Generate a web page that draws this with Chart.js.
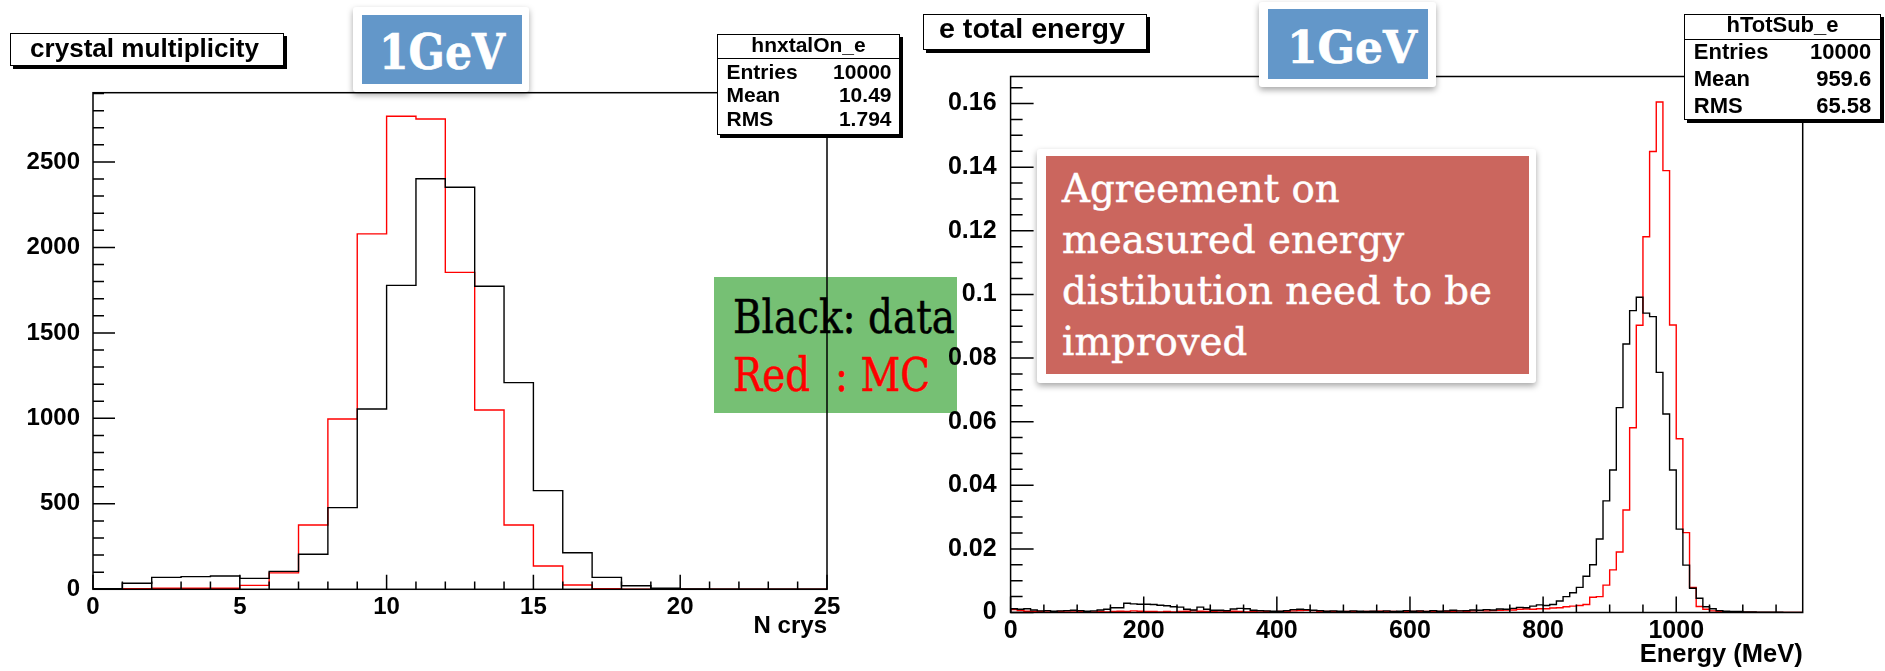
<!DOCTYPE html>
<html>
<head>
<meta charset="utf-8">
<title>crystal multiplicity / e total energy</title>
<script src="https://cdn.jsdelivr.net/npm/chart.js@4.4.1/dist/chart.umd.min.js"></script>
<style>
  html, body { margin: 0; padding: 0; background: #fff; }
  #page { position: relative; width: 1885px; height: 671px; overflow: hidden; background: #fff;
          font-family: "Liberation Sans", Arial, Helvetica, sans-serif; }
  canvas { position: absolute; top: 0; z-index: 2; }
  #crysCanvas { left: 0; }
  #energyCanvas { left: 910px; }
  .pave { position: absolute; box-sizing: border-box; background: #fff; border: 1.5px solid #000;
          box-shadow: 3px 3px 0 #000; z-index: 3; color: #000; font-weight: bold; }
  .pave .t { position: absolute; white-space: pre; }
  .sep { position: absolute; left: 0; right: 0; height: 0; border-top: 1.5px solid #000; }
  .fit { display: inline-block; white-space: pre; transform-origin: 0 0; }
  .mat { position: absolute; background: #fff; border-radius: 3px;
         box-shadow: 0 3px 6px rgba(0,0,0,0.35); z-index: 3; }
  .gev { position: absolute; background: #6397c9; color: #fff;
         font-family: "DejaVu Serif", serif; font-weight: bold; }
  .gev span { position: absolute; -webkit-text-stroke: 0.6px #fff; }
  #legendBox { position: absolute; left: 714px; top: 277px; width: 243px; height: 136px;
               background: #76c074; z-index: 1; }
  #legendBox .fit { position: absolute; left: 19px; top: 11px;
                    font-family: "DejaVu Serif", serif;
                    font-size: 46px; line-height: 58px; }
  #legendBox .blk { color: #000; -webkit-text-stroke: 0.5px #000; }
  #legendBox .red { color: #ff0000; -webkit-text-stroke: 0.5px #ff0000; }
  #noteBox { position: absolute; background: #cb665e; color: #fff;
             font-family: "DejaVu Serif", serif; }
  #noteBox .fit { position: absolute; left: 16px; top: 7px; font-size: 40px; line-height: 50.8px;
                  -webkit-text-stroke: 0.5px #fff; }
</style>
</head>
<body>
<div id="page">
  <canvas id="crysCanvas" width="910" height="671"></canvas>
  <canvas id="energyCanvas" width="975" height="671"></canvas>

  <!-- legend note behind the left frame -->
  <div id="legendBox"><span class="fit" data-w="222"><span class="blk">Black: data</span>
<span class="red">Red  : MC</span></span></div>

  <!-- histogram titles -->
  <div class="pave" style="left:10px;top:33px;width:274px;height:33px;">
    <span class="t fit" data-w="229" style="left:18.5px;top:-0.8px;font-size:25px;line-height:30px;">crystal multiplicity</span>
  </div>
  <div class="pave" style="left:923px;top:14px;width:224px;height:36px;">
    <span class="t fit" data-w="186" style="left:14.5px;top:-1.6px;font-size:28px;line-height:32px;">e total energy</span>
  </div>

  <!-- statistics boxes -->
  <div class="pave" style="left:717px;top:34px;width:183px;height:101px;font-size:21px;">
    <div class="t" style="left:0;right:0;top:-2.5px;line-height:24px;text-align:center;">hnxtalOn_e</div>
    <div class="sep" style="top:23px;"></div>
    <div class="t" style="left:8.5px;top:25.3px;line-height:24px;">Entries</div>
    <div class="t" style="right:7.5px;top:25.3px;line-height:24px;">10000</div>
    <div class="t" style="left:8.5px;top:48px;line-height:24px;">Mean</div>
    <div class="t" style="right:7.5px;top:48px;line-height:24px;">10.49</div>
    <div class="t" style="left:8.5px;top:72px;line-height:24px;">RMS</div>
    <div class="t" style="right:7.5px;top:72px;line-height:24px;">1.794</div>
  </div>
  <div class="pave" style="left:1684px;top:14px;width:197px;height:106px;font-size:22px;">
    <div class="t" style="left:0;right:0;top:-2.6px;line-height:25px;text-align:center;">hTotSub_e</div>
    <div class="sep" style="top:23.8px;"></div>
    <div class="t" style="left:8.8px;top:24.4px;line-height:25px;">Entries</div>
    <div class="t" style="right:8.8px;top:24.4px;line-height:25px;">10000</div>
    <div class="t" style="left:8.8px;top:51.1px;line-height:25px;">Mean</div>
    <div class="t" style="right:8.8px;top:51.1px;line-height:25px;">959.6</div>
    <div class="t" style="left:8.8px;top:77.7px;line-height:25px;">RMS</div>
    <div class="t" style="right:8.8px;top:77.7px;line-height:25px;">65.58</div>
  </div>

  <!-- beam energy tags -->
  <div class="mat" style="left:353px;top:7px;width:176px;height:85px;">
    <div class="gev" style="left:9px;top:8px;width:160px;height:69px;">
      <span class="fit" data-w="126" style="left:17px;top:12.7px;font-size:48px;line-height:48px;">1GeV</span>
    </div>
  </div>
  <div class="mat" style="left:1259px;top:2px;width:177px;height:85px;">
    <div class="gev" style="left:9px;top:7px;width:160px;height:70px;">
      <span class="fit" data-w="130" style="left:19px;top:16.2px;font-size:45px;line-height:45px;">1GeV</span>
    </div>
  </div>

  <!-- comment on the energy distribution -->
  <div class="mat" style="left:1037px;top:149px;width:499px;height:234px;">
    <div id="noteBox" style="left:8.5px;top:7.4px;width:483.5px;height:217.6px;">
      <span class="fit" data-w="430">Agreement on
measured energy
distibution need to be
improved</span>
    </div>
  </div>
</div>

<script>
// ---------------- crystal multiplicity (bins of 1 crystal) ----------------
const crysEdges = [0, 1, 2, 3, 4, 5, 6, 7, 8, 9, 10, 11, 12, 13, 14, 15, 16, 17, 18, 19, 20, 21, 22, 23, 24, 25];
const crysData  = [3, 35, 70, 74, 78, 64, 105, 205, 478, 1055, 1778, 2402, 2352, 1773, 1209, 577, 214, 70, 21, 6, 2, 0, 0, 0, 0];
const crysMC    = [0, 4, 6, 6, 6, 23, 96, 376, 996, 2079, 2767, 2751, 1854, 1049, 376, 136, 25, 4, 1, 0, 0, 0, 0, 0, 0];
const crysXTicks  = [0, 5, 10, 15, 20, 25];
const crysXLabels = ['0', '5', '10', '15', '20', '25'];
const crysYTicks  = [0, 500, 1000, 1500, 2000, 2500];
const crysYLabels = ['0', '500', '1000', '1500', '2000', '2500'];

// ---------------- e total energy (10 MeV bins, 0 - 1190 MeV) ----------------
const energyBinWidth = 10;
const energyData = [
  0.0012, 0.0010, 0.0012, 0.0008, 0.0005, 0.0006, 0.0004, 0.0005, 0.0006, 0.0007,
  0.0006, 0.0004, 0.0005, 0.0008, 0.0010, 0.0015, 0.0015, 0.0029, 0.0027, 0.0026,
  0.0026, 0.0025, 0.0023, 0.0021, 0.0018, 0.0017, 0.0010, 0.0008, 0.0017, 0.0010,
  0.0007, 0.0007, 0.0006, 0.0011, 0.0013, 0.0012, 0.0007, 0.0006, 0.0005, 0.0004,
  0.0004, 0.0006, 0.0009, 0.0010, 0.0009, 0.0007, 0.0006, 0.0004, 0.0005, 0.0004,
  0.0003, 0.0005, 0.0004, 0.0003, 0.0004, 0.0003, 0.0005, 0.0003, 0.0004, 0.0006,
  0.0004, 0.0005, 0.0003, 0.0006, 0.0004, 0.0005, 0.0007, 0.0005, 0.0006, 0.0008,
  0.0007, 0.0009, 0.0008, 0.0011, 0.0010, 0.0013, 0.0016, 0.0015, 0.0020, 0.0024,
  0.0022, 0.0025, 0.0036, 0.0050, 0.0062, 0.0079, 0.0114, 0.0150, 0.0231, 0.0351,
  0.0448, 0.0644, 0.0844, 0.0949, 0.0991, 0.0941, 0.0930, 0.0755, 0.0624, 0.0448,
  0.0262, 0.0149, 0.0076, 0.0045, 0.0018, 0.0012, 0.0006, 0.0004, 0.0003, 0.0003,
  0.0002, 0.0002, 0.0001, 0.0001, 0.0001, 0.0001, 0, 0, 0
];
const energyMC = [
  0.0009, 0.0006, 0.0004, 0.0003, 0.0003, 0.0002, 0.0002, 0.0003, 0.0002, 0.0002,
  0.0003, 0.0002, 0.0002, 0.0003, 0.0002, 0.0003, 0.0004, 0.0003, 0.0005, 0.0004,
  0.0003, 0.0003, 0.0002, 0.0003, 0.0002, 0.0003, 0.0004, 0.0005, 0.0004, 0.0003,
  0.0003, 0.0002, 0.0003, 0.0004, 0.0003, 0.0002, 0.0003, 0.0002, 0.0003, 0.0002,
  0.0003, 0.0003, 0.0005, 0.0006, 0.0007, 0.0006, 0.0004, 0.0003, 0.0003, 0.0002,
  0.0003, 0.0003, 0.0002, 0.0003, 0.0003, 0.0004, 0.0003, 0.0003, 0.0002, 0.0003,
  0.0003, 0.0004, 0.0003, 0.0004, 0.0003, 0.0004, 0.0004, 0.0005, 0.0004, 0.0005,
  0.0006, 0.0005, 0.0006, 0.0007, 0.0008, 0.0008, 0.0010, 0.0011, 0.0010, 0.0012,
  0.0012, 0.0014, 0.0015, 0.0018, 0.0020, 0.0022, 0.0025, 0.0048, 0.0050, 0.0086,
  0.0134, 0.0190, 0.0322, 0.0581, 0.0903, 0.1181, 0.1449, 0.1605, 0.1389, 0.0904,
  0.0546, 0.0251, 0.0079, 0.0019, 0.0010, 0.0005, 0.0003, 0.0002, 0.0001, 0.0001,
  0.0001, 0.0001, 0, 0, 0, 0, 0, 0, 0
];
const energyXTicks  = [0, 200, 400, 600, 800, 1000];
const energyXLabels = ['0', '200', '400', '600', '800', '1000'];
const energyYTicks  = [0, 0.02, 0.04, 0.06, 0.08, 0.1, 0.12, 0.14, 0.16];
const energyYLabels = ['0', '0.02', '0.04', '0.06', '0.08', '0.1', '0.12', '0.14', '0.16'];

const energyEdges = [];
for (let i = 0; i <= energyData.length; i++) energyEdges.push(i * energyBinWidth);

// step outline of a histogram, starting and ending on the baseline
function histPoints(edges, values) {
  const pts = [{ x: edges[0], y: 0 }];
  values.forEach((v, i) => pts.push({ x: edges[i], y: v }));
  const last = edges[edges.length - 1];
  pts.push({ x: last, y: values[values.length - 1] });
  pts.push({ x: last, y: 0 });
  return pts;
}

// frame box plus inward tick marks on the bottom and left axes
const rootFrame = {
  id: 'rootFrame',
  afterDatasetsDraw(chart, args, o) {
    const { ctx, chartArea: a } = chart;
    const xs = chart.scales.x, ys = chart.scales.y;
    ctx.save();
    ctx.strokeStyle = '#000';
    ctx.lineWidth = o.lineWidth;
    ctx.beginPath();
    const nx = Math.floor((xs.max - xs.min) / o.xStep + 1e-6);
    for (let i = 0; i <= nx; i++) {
      const px = xs.getPixelForValue(xs.min + i * o.xStep);
      const len = (i % o.xPer === 0) ? o.xMajorLen : o.xMinorLen;
      ctx.moveTo(px, a.bottom);
      ctx.lineTo(px, a.bottom - len);
    }
    const ny = Math.floor((ys.max - ys.min) / o.yStep + 1e-6);
    for (let j = 0; j <= ny; j++) {
      const py = ys.getPixelForValue(ys.min + j * o.yStep);
      const len = (j % o.yPer === 0) ? o.yMajorLen : o.yMinorLen;
      ctx.moveTo(a.left, py);
      ctx.lineTo(a.left + len, py);
    }
    ctx.stroke();
    ctx.strokeRect(a.left, a.top, a.right - a.left, a.bottom - a.top);
    ctx.restore();
  }
};

const FONT = '"Liberation Sans", Arial, Helvetica, sans-serif';

function histChart(canvasId, cfg) {
  return new Chart(document.getElementById(canvasId), {
    type: 'line',
    data: {
      datasets: [
        { label: 'data', data: histPoints(cfg.edges, cfg.data), borderColor: '#000000',
          borderWidth: 1.4, stepped: 'before', pointRadius: 0, fill: false, tension: 0 },
        { label: 'MC', data: histPoints(cfg.edges, cfg.mc), borderColor: '#ff0000',
          borderWidth: 1.4, stepped: 'before', pointRadius: 0, fill: false, tension: 0 }
      ]
    },
    options: {
      responsive: false,
      animation: false,
      events: [],
      layout: { padding: { left: 0, top: cfg.padTop, right: cfg.padRight, bottom: 0 } },
      plugins: {
        legend: { display: false },
        tooltip: { enabled: false },
        rootFrame: cfg.frame
      },
      scales: {
        x: {
          type: 'linear', min: cfg.xMin, max: cfg.xMax,
          grid: { display: false }, border: { display: false },
          afterBuildTicks: s => { s.ticks = cfg.xTicks.map(v => ({ value: v })); },
          afterFit: s => { s.height = cfg.xAxisHeight; },
          ticks: {
            color: '#000', autoSkip: false, maxRotation: 0, padding: cfg.xLabelPad,
            font: { family: FONT, size: cfg.xFont, weight: 'bold' },
            callback: (v, i) => cfg.xLabels[i]
          },
          title: {
            display: true, text: cfg.xTitle, align: 'end', color: '#000',
            font: { family: FONT, size: cfg.titleFont, weight: 'bold' },
            padding: { top: 0, bottom: cfg.titlePad }
          }
        },
        y: {
          type: 'linear', min: 0, max: cfg.yMax,
          grid: { display: false }, border: { display: false },
          afterBuildTicks: s => { s.ticks = cfg.yTicks.map(v => ({ value: v })); },
          afterFit: s => { s.width = cfg.yAxisWidth; },
          ticks: {
            color: '#000', autoSkip: false, padding: cfg.yLabelPad,
            font: { family: FONT, size: cfg.yFont, weight: 'bold' },
            callback: (v, i) => cfg.yLabels[i]
          }
        }
      }
    },
    plugins: [rootFrame]
  });
}

histChart('crysCanvas', {
  edges: crysEdges, data: crysData, mc: crysMC,
  xMin: 0, xMax: 25, yMax: 2905,
  xTicks: crysXTicks, xLabels: crysXLabels, yTicks: crysYTicks, yLabels: crysYLabels,
  xTitle: 'N crys',
  padTop: 92.7, padRight: 83, yAxisWidth: 93, xAxisHeight: 81.7,
  xFont: 24, yFont: 24, titleFont: 24, xLabelPad: -4, yLabelPad: 5, titlePad: 30,
  frame: { lineWidth: 1.5, xStep: 1, xPer: 5, xMajorLen: 14.5, xMinorLen: 7.7,
           yStep: 100, yPer: 5, yMajorLen: 22, yMinorLen: 11 }
});

histChart('energyCanvas', {
  edges: energyEdges, data: energyData, mc: energyMC,
  xMin: 0, xMax: 1190, yMax: 0.1685,
  xTicks: energyXTicks, xLabels: energyXLabels, yTicks: energyYTicks, yLabels: energyYLabels,
  xTitle: 'Energy (MeV)',
  padTop: 76.5, padRight: 82.3, yAxisWidth: 100.6, xAxisHeight: 58.5,
  xFont: 25, yFont: 25, titleFont: 25.5, xLabelPad: -4, yLabelPad: 6, titlePad: 0.5,
  frame: { lineWidth: 1.5, xStep: 50, xPer: 4, xMajorLen: 16, xMinorLen: 8,
           yStep: 0.005, yPer: 4, yMajorLen: 23, yMinorLen: 12 }
});

// squeeze or stretch text blocks horizontally to their set widths
document.querySelectorAll('.fit[data-w]').forEach(el => {
  const w = el.getBoundingClientRect().width;
  const target = parseFloat(el.dataset.w);
  if (w > 0) el.style.transform = 'scaleX(' + (target / w) + ')';
});
</script>
</body>
</html>
